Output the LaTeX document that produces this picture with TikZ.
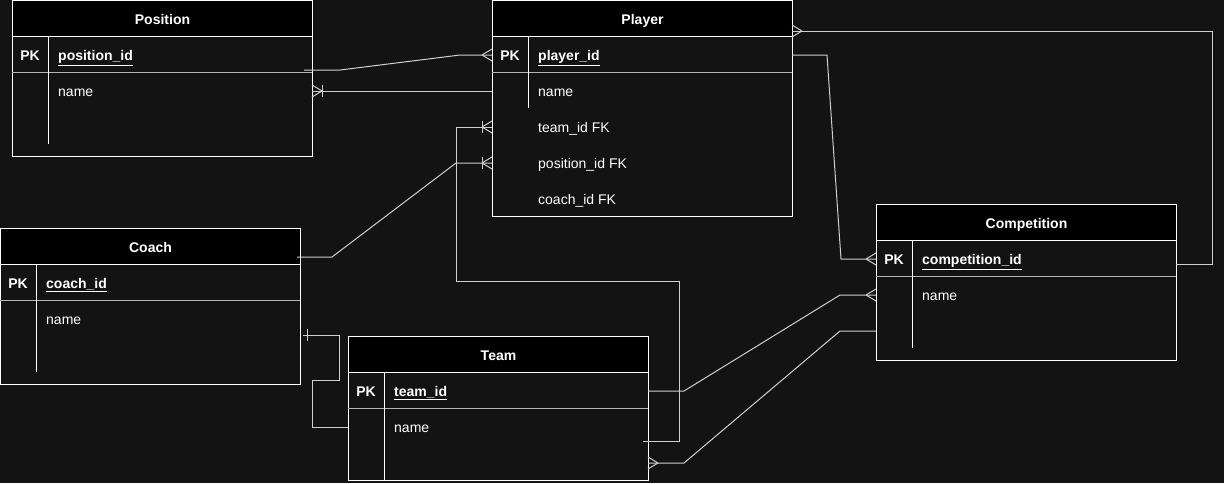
\documentclass[tikz,border=0pt]{standalone}
\usepackage{fontspec}
\setmainfont{Liberation Sans}
\definecolor{bg}{HTML}{131313}
\definecolor{conn}{HTML}{CFCFCF}
\definecolor{sep}{HTML}{B4B4B4}
\begin{document}
\begin{tikzpicture}[x=1pt,y=-1pt,
  every node/.style={text=white, inner sep=0pt, font=\fontsize{14}{16}\selectfont},
  hdr/.style={fill=black, draw=white, line width=1pt, anchor=north west, minimum width=300pt, minimum height=36pt, text height=12pt, text depth=0pt, font=\fontsize{14}{16}\selectfont\bfseries},
  tblbody/.style={draw=white, line width=1pt, anchor=north west, minimum width=300pt},
  seprule/.style={draw=sep, line width=1pt},
  divrule/.style={draw=white, line width=1pt},
  pklbl/.style={anchor=base, yshift=-5.5pt, font=\fontsize{14}{16}\selectfont\bfseries},
  fld/.style={anchor=base west, yshift=-5.5pt},
  conn/.style={draw=conn, line width=1pt},
  crow/.pic={\draw[conn] (-10,0) -- (0,-6); \draw[conn] (-10,0) -- (0,6);},
  onebar/.pic={\draw[conn] (-10,-6) -- (-10,6);}
]
\useasboundingbox[fill=bg] (0,0) rectangle (1224,483);

% ---------- Position ----------
\node[tblbody, minimum height=120pt] (posB) at (12,36) {};
\node[hdr] (posH) at (12,0) {Position};
\draw[seprule] (12,72) -- (312,72);
\draw[divrule] (48,36) -- (48,144);
\node[pklbl] (posPKl) at (30,55) {PK};
\node[fld, font=\fontsize{14}{16}\selectfont\bfseries] (posPK) at (58,55) {\underline{position\_id}};
\node[fld] (posN) at (58,91) {name};

% ---------- Player ----------
\node[tblbody, minimum height=180pt] (plB) at (492,36) {};
\node[hdr] (plH) at (492,0) {Player};
\draw[seprule] (492,72) -- (792,72);
\draw[divrule] (528,36) -- (528,108);
\node[pklbl] (plPKl) at (510,55) {PK};
\node[fld, font=\fontsize{14}{16}\selectfont\bfseries] (plPKt) at (538,55) {\underline{player\_id}};
\node[fld] (plN) at (538,91) {name};
\node[fld] (plT) at (538,127) {team\_id FK};
\node[fld] (plP) at (538,163) {position\_id FK};
\node[fld] (plC) at (538,199) {coach\_id FK};

% ---------- Coach ----------
\node[tblbody, minimum height=120pt] (coB) at (0,264) {};
\node[hdr] (coH) at (0,228) {Coach};
\draw[seprule] (0,300) -- (300,300);
\draw[divrule] (36,264) -- (36,372);
\node[pklbl] (coPKl) at (18,283) {PK};
\node[fld, font=\fontsize{14}{16}\selectfont\bfseries] (coPK) at (46,283) {\underline{coach\_id}};
\node[fld] (coN) at (46,319) {name};

% ---------- Team ----------
\node[tblbody, minimum height=108pt] (tmB) at (348,372) {};
\node[hdr] (tmH) at (348,336) {Team};
\draw[seprule] (348,408) -- (648,408);
\draw[divrule] (384,372) -- (384,480);
\node[pklbl] (tmPKl) at (366,391) {PK};
\node[fld, font=\fontsize{14}{16}\selectfont\bfseries] (tmPK) at (394,391) {\underline{team\_id}};
\node[fld] (tmN) at (394,427) {name};

% ---------- Competition ----------
\node[tblbody, minimum height=120pt] (cpB) at (876,240) {};
\node[hdr] (cpH) at (876,204) {Competition};
\draw[seprule] (876,276) -- (1176,276);
\draw[divrule] (912,240) -- (912,348);
\node[pklbl] (cpPKl) at (894,259) {PK};
\node[fld, font=\fontsize{14}{16}\selectfont\bfseries] (cpPK) at (922,259) {\underline{competition\_id}};
\node[fld] (cpN) at (922,295) {name};

% ---------- connector end points ----------
\coordinate (posOut) at (304,70);
\coordinate (plPKw) at (492,55);
\coordinate (plNw) at (492,91);
\coordinate (posNe) at (312,91);
\coordinate (tmOut) at (643,441);
\coordinate (plTw) at (492,127);
\coordinate (coOut) at (297,257);
\coordinate (plPw) at (492,163);
\coordinate (plPKe) at (792,55);
\coordinate (cpPKw) at (876,259);
\coordinate (cpE) at (1176,264);
\coordinate (plTop) at (792,31);
\coordinate (tmPKe) at (648,391);
\coordinate (cpNw) at (876,295);
\coordinate (cpLow) at (876,331);
\coordinate (tmLow) at (648,463);
\coordinate (coNe) at (303,335);
\coordinate (tmNw) at (348,427);

% ---------- connectors ----------
\draw[conn] (posOut) -- (340,70) -- (460,55) -- (plPKw);
\pic at (plPKw) {crow};

\draw[conn] (plNw) -- (posNe);
\pic[xscale=-1] at (posNe) {crow};
\pic[xscale=-1] at (posNe) {onebar};

\draw[conn] (tmOut) -- (679,441) -- (679,281) -- (456,281) -- (456,127) -- (plTw);
\pic at (plTw) {crow};
\pic at (plTw) {onebar};

\draw[conn] (coOut) -- (332,257) -- (456,163) -- (plPw);
\pic at (plPw) {crow};
\pic at (plPw) {onebar};

\draw[conn] (plPKe) -- (827,55) -- (841,259) -- (cpPKw);
\pic at (cpPKw) {crow};

\draw[conn] (cpE) -- (1212,264) -- (1212,31) -- (plTop);
\pic[xscale=-1] at (plTop) {crow};

\draw[conn] (tmPKe) -- (684,391) -- (840,295) -- (cpNw);
\pic at (cpNw) {crow};

\draw[conn] (cpLow) -- (840,331) -- (684,463) -- (tmLow);
\pic[xscale=-1] at (tmLow) {crow};

\draw[conn] (coNe) -- (339,335) -- (339,380) -- (312,380) -- (312,427) -- (tmNw);
\draw[conn] (307,329) -- (307,341);
\end{tikzpicture}
\end{document}
